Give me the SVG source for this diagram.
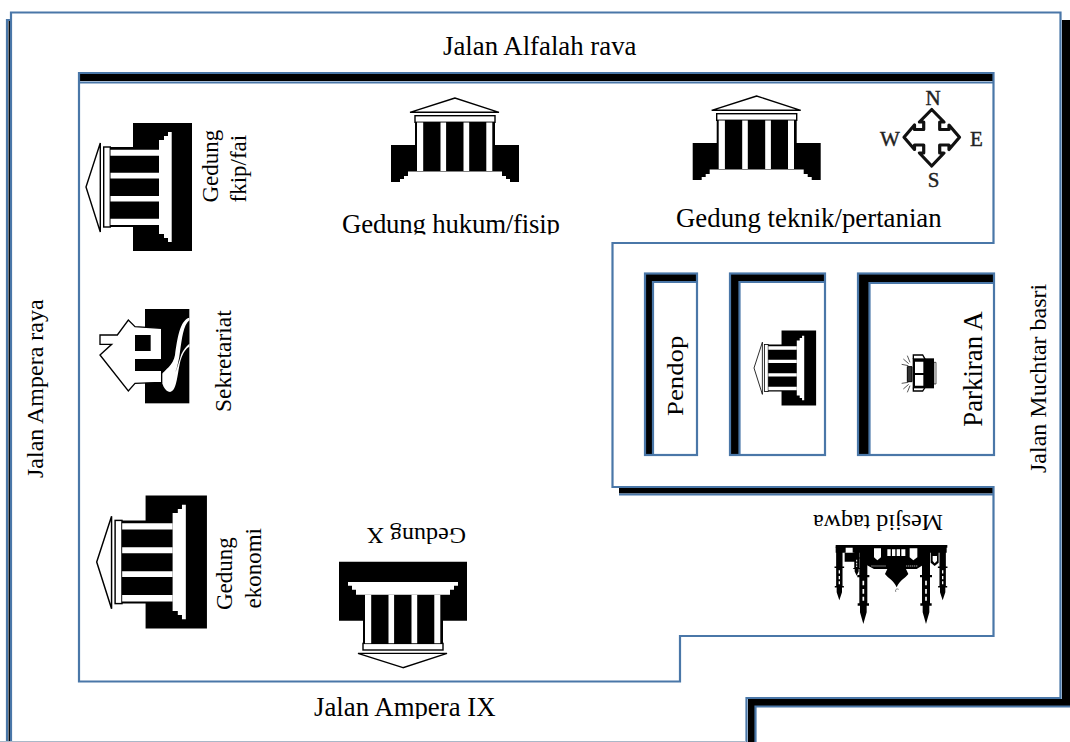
<svg xmlns="http://www.w3.org/2000/svg" xmlns:xlink="http://www.w3.org/1999/xlink" width="1070" height="742" viewBox="0 0 1070 742">
<style>
.f{fill:none;stroke:#4a77a8;stroke-width:2.2}
.k{fill:#000}
.w{fill:#fff}
text{font-family:"Liberation Serif","Times New Roman",serif;fill:#000}
.l{font-size:26.8px}
.m{font-size:24px}
.s{font-size:23px}
.c{font-size:21px;fill:#222;stroke:#222;stroke-width:.4}
</style>
<defs>
<g id="core">
<path d="M-40,22H40V74H-40Z" class="k"/>
<path d="M0,0L-45,14.3H44Z" fill="#fff" stroke="#000" stroke-width="1.4"/>
<rect x="-40" y="17.7" width="80" height="6.6" fill="#fff" stroke="#000" stroke-width="1.4"/>
<path d="M-38,24.5h6.2V73h-6.2Z M-14.5,24.5h5.6V73h-5.6Z M8.5,24.5h5.7V73h-5.7Z M31.3,24.5h6V73h-6Z" class="w"/>
</g>
<g id="bldg">
<path d="M-64,47H64V84H-64Z" class="k"/>
<use xlink:href="#core" href="#core"/>
<path d="M-47,73.5H47V78H51V81H55V84H-55V81H-51V78H-47Z" class="w"/>
</g>
<g id="bldg-full">
<path d="M-64,47H64V106H-64Z" class="k"/>
<use xlink:href="#core" href="#core"/>
<path d="M-47,73H47V78H51V82H55V85.700H-55V82H-51V78H-47Z" class="w"/>
</g>
<g id="minaret">
<path d="M-12,0H12V83H18V90H12V168H17V175H10V195L0,230L-10,195V175H-17V168H-12V90H-18V83H-12Z" class="k"/>
<path d="M-2.500,100h5v14h-5Z M-2.500,125h5v14h-5Z M-2.500,148h5v12h-5Z" class="w"/>
</g>
<clipPath id="cutHukum"><rect x="330" y="205" width="250" height="29.500"/></clipPath>
<clipPath id="cutAmpera"><rect x="300" y="690" width="220" height="29"/></clipPath>
</defs>
<rect width="1070" height="742" fill="#fff"/>
<g id="outer-frame">
<path d="M1062,20H1070V706H755V742H748V699H1062Z" class="k"/>
<path d="M8.500,20H11V742H8.500Z" class="k"/>
<path class="f" d="M11,742V12.500H1060.500V698H746.500V742"/>
<path class="f" d="M1070,706.500H755.500V742"/>
<path class="f" d="M11,20H7V742"/>
<path d="M0,741.500H746" stroke="#aab8c8" stroke-width="1" fill="none"/>
</g>
<g id="campus-block">
<path d="M80,74H994V81H80Z" class="k"/>
<path d="M619,487H994V493.500H619Z" class="k"/>
<path class="f" d="M80,82.500H993.500"/>
<path class="f" d="M993.500,73V243H612.500V487H993.500V636H680V681.500H79V73Z"/>
<path class="f" d="M619,494.500H993.500"/>
</g>
<g id="room-pendop">
<path d="M645,274H697V281H652V455H645Z" class="k"/>
<rect class="f" x="645" y="273.500" width="52" height="181.500"/>
<path class="f" d="M697,282H653V455"/>
</g>
<g id="room-middle">
<path d="M730,274H825V281H739V455H730Z" class="k"/>
<rect class="f" x="730" y="273.500" width="95" height="181.500"/>
<path class="f" d="M825,282H739.500V455"/>
</g>
<g id="room-parkiran">
<path d="M858,274H994V282H869V455H858Z" class="k"/>
<rect class="f" x="858" y="273.500" width="136" height="181.500"/>
<path class="f" d="M994,283H869.500V455"/>
</g>
<g id="gedung-fkip">
<use xlink:href="#bldg-full" href="#bldg-full" transform="translate(86,187) rotate(-90)"/>
<text class="s" transform="translate(217.500,202.500) rotate(-90)">Gedung</text>
<text class="s" transform="translate(246,202.500) rotate(-90)">fkip/fai</text>
</g>
<g id="gedung-hukum">
<use xlink:href="#bldg" href="#bldg" transform="translate(455,98)"/>
<text class="l" x="342" y="233" clip-path="url(#cutHukum)" textLength="218">Gedung hukum/fisip</text>
</g>
<g id="gedung-teknik">
<use xlink:href="#bldg" href="#bldg" transform="translate(756.700,96)"/>
<text class="l" x="676" y="226.500">Gedung teknik/pertanian</text>
</g>
<g id="compass">
<path d="M931.700,109.500L944,122H939.700V129.500H949V125L959.500,137.300L949,149.500V145H939.700V153H944L931.700,166L919.400,153H923.700V145H914.500V149.500L904,137.300L914.500,125V129.500H923.700V122H919.400Z" fill="#fff" stroke="#111" stroke-width="3.200" stroke-linejoin="round"/>
<text class="c" x="933" y="104.500" text-anchor="middle">N</text>
<text class="c" x="890" y="145.500" text-anchor="middle">W</text>
<text class="c" x="976.500" y="145.500" text-anchor="middle">E</text>
<text class="c" x="933.500" y="187" text-anchor="middle">S</text>
</g>
<g id="sekretariat">
<g transform="translate(90,295) scale(.33333)">
<rect class="k" x="165" y="42" width="133" height="283"/>
<path d="M298,68C270,75 262,130 255,180C250,210 225,225 213,240C213,265 225,291 240,291C262,288 262,230 272,195C278,175 288,160 298,155Z" class="w"/>
<path d="M298,76C280,90 276,130 270,170C267,195 262,215 256,232C262,220 268,195 274,178C280,165 288,155 298,146Z" class="k"/>
<path d="M30,180L65,148H30V120H82L115,75L135,95L215,100V262L135,265L115,288Z" fill="#fff" stroke="#000" stroke-width="4" stroke-linejoin="miter"/>
<rect class="k" x="135" y="120" width="47" height="48"/>
<rect class="k" x="135" y="192" width="80" height="36"/>
</g>
<text font-size="23.500" transform="translate(231,412) rotate(-90)">Sekretariat</text>
</g>
<g id="jalan-labels">
<text class="l" x="443" y="55">Jalan Alfalah rava</text>
<text class="m" transform="translate(43,478) rotate(-90)">Jalan Ampera raya</text>
<text class="m" transform="translate(1046,473) rotate(-90)">Jalan Muchtar basri</text>
<text class="l" x="314" y="716" clip-path="url(#cutAmpera)">Jalan Ampera IX</text>
</g>
<g id="pendop"><text class="l" transform="translate(683,416) rotate(-90) scale(1,.88)">Pendop</text></g>
<g id="gedung-tengah"><use xlink:href="#bldg-full" href="#bldg-full" transform="translate(754,368) rotate(-90) scale(.586)"/></g>
<g id="parkiran">
<g transform="translate(890,345) scale(.33333)">
<path d="M68,40H132V130H68Z" class="k"/>
<path d="M75,50H100V84H75Z M75,90H100V122H75Z" class="w"/>
<path d="M132,52H138V117H132Z" fill="#fff" stroke="#000" stroke-width="2"/>
<path d="M52,65H66V110H52Z" fill="#333" stroke="#000" stroke-width="3"/>
<path d="M70,42V30H98L106,44M70,128V138H98L106,126" fill="none" stroke="#000" stroke-width="4"/>
<path d="M35,58L55,62M40,42L56,56M52,32L60,52M35,115L55,112M40,132L56,118M52,142L60,122" fill="none" stroke="#000" stroke-width="2"/>
</g>
<text class="l" transform="translate(982,426.700) rotate(-90)">Parkiran A</text>
</g>
<g id="gedung-ekonomi">
<use xlink:href="#bldg-full" href="#bldg-full" transform="translate(96.700,562) rotate(-90) scale(1.04)"/>
<text class="s" transform="translate(231.500,610) rotate(-90)">Gedung</text>
<text class="s" transform="translate(260.500,608.500) rotate(-90)">ekonomi</text>
</g>
<g id="gedung-x">
<use xlink:href="#bldg-full" href="#bldg-full" transform="translate(403,667.700) scale(1,-1)"/>
<text class="m" transform="translate(466,527.500) rotate(180)">Gedung X</text>
</g>
<g id="mesjid">
<g transform="translate(800,500) scale(.33333)">
<rect class="k" x="107" y="135" width="335" height="8"/>
<path d="M107,140H190V158H107Z M378,140H440V158H378Z M190,140H378V190L350,207H318L325,222C315,235 300,240 290,262C280,240 265,235 255,222L262,207H222L190,190Z" class="k"/>
<path d="M137,143H158V160L147,168L137,160Z M222,145H243V172L232,181L222,172Z M329,145H352V172L340,181L329,172Z M262,148H272V168H262Z M276,148H286V168H276Z M290,148H300V168H290Z M304,148H316V168H304Z" class="w"/>
<path d="M134,158H165V185H134Z M392,155H416V188L404,198L392,188Z" class="k"/>
<path d="M398,168H411V183L404,190L398,183Z" class="w"/>
<path d="M214,198H258M318,198H352" stroke="#fff" stroke-width="2" stroke-dasharray="4 2" fill="none"/>
<use xlink:href="#minaret" href="#minaret" transform="translate(190,142)"/>
<use xlink:href="#minaret" href="#minaret" transform="translate(378,142)"/>
<use xlink:href="#minaret" href="#minaret" transform="translate(118,142) scale(.8,.69)"/>
<use xlink:href="#minaret" href="#minaret" transform="translate(428,142) scale(.8,.69)"/>
<use xlink:href="#minaret" href="#minaret" transform="translate(170,142) scale(.6,.37)"/>
<path d="M296,268C288,264 284,272 288,276" fill="none" stroke="#444" stroke-width="2"/>
</g>
<text class="m" transform="translate(943,515) rotate(180)">Mesjid taqwa</text>
</g>
</svg>
